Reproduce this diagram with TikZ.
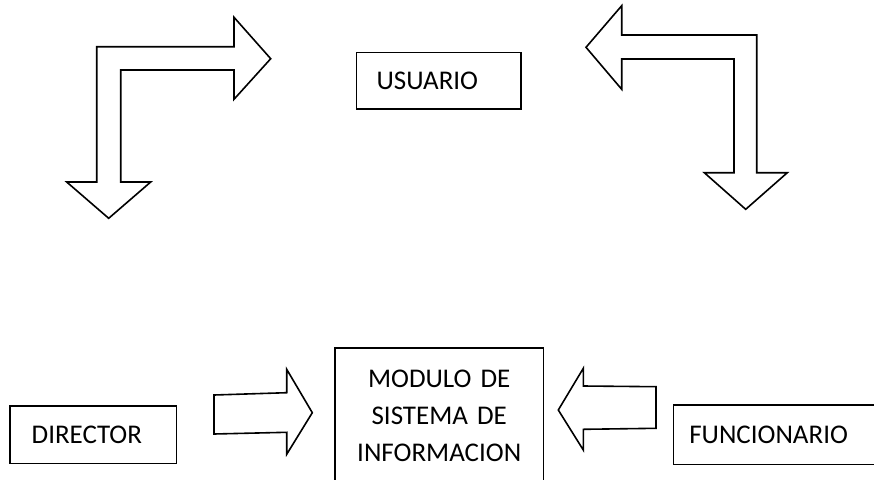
\documentclass[tikz,border=0pt]{standalone}
\usepackage{fontspec}
\setmainfont{Carlito}
\begin{document}
\begin{tikzpicture}[x=1pt,y=-1pt,
  line width=1.6pt, line join=miter,
  lbl/.style={font=\fontsize{27}{37}\selectfont},
  boxnode/.style={draw, rectangle, line width=1.6pt, inner ysep=0pt, lbl},
  blockarrow/.style={draw, fill=white, line width=1.6pt, line join=miter}]
\useasboundingbox (0,0) rectangle (874,479);
\clip (0,0) rectangle (874,479);

% bent arrows
\draw[blockarrow] (96.7,46.7) -- (234,46.7) -- (234,17.3) -- (270.7,58.7) -- (234,99.3)
  -- (234,70) -- (120.7,70) -- (120.7,182) -- (150.7,182) -- (108.7,218.3)
  -- (66.7,182) -- (96.7,182) -- cycle;
\draw[blockarrow] (756.7,35) -- (621.7,35) -- (621.7,5.7) -- (586,47.3) -- (621.7,89.3)
  -- (621.7,59) -- (734,59) -- (734,172.7) -- (704.3,172.7) -- (745.7,209.3)
  -- (787.3,172.7) -- (756.7,172.7) -- cycle;

% straight arrows
\draw[blockarrow] (214,395) -- (286.7,392.7) -- (286.7,369.3) -- (312.3,412.7)
  -- (286.7,454.3) -- (286.7,432.3) -- (214,434) -- cycle;
\draw[blockarrow] (656,386.7) -- (583.3,386) -- (583.3,368.3) -- (558.3,410)
  -- (583.3,450) -- (583.3,429.3) -- (656,428.3) -- cycle;

% boxes
\node[boxnode, minimum width=164.3pt, minimum height=56.7pt, inner xsep=20pt,
  text width=124.3pt, align=left] (usuario) at (438.8,80.7) {USUARIO};
\node[boxnode, minimum width=166.7pt, minimum height=57.3pt, inner xsep=21.7pt,
  text width=123.3pt, align=left] (director) at (93.3,434.7) {DIRECTOR};
\node[boxnode, minimum width=220pt, minimum height=59.3pt, inner xsep=16pt,
  text width=188pt, align=left] (funcionario) at (783.3,434.7) {FUNCIONARIO};
\node[boxnode, minimum width=208.3pt, minimum height=135pt, inner xsep=0pt,
  text width=208.3pt, align=center] (modulo) at (439.2,415.7)
  {MODULO DE\\SISTEMA DE\\INFORMACION};
\end{tikzpicture}
\end{document}
